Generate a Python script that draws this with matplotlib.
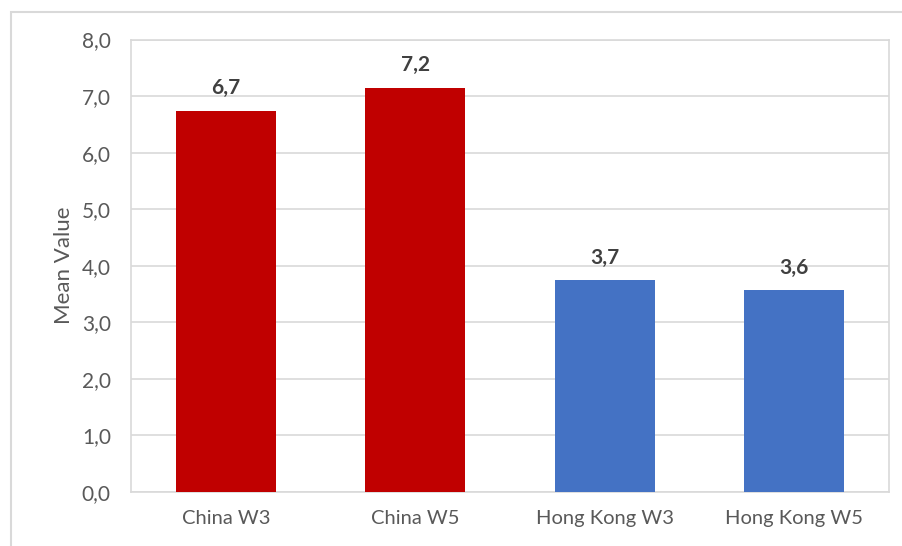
import matplotlib
matplotlib.use("Agg")
import matplotlib.pyplot as plt
from matplotlib.patches import Rectangle

categories = ["China W3", "China W5", "Hong Kong W3", "Hong Kong W5"]
values = [6.74, 7.15, 3.74, 3.57]
labels = ["6,7", "7,2", "3,7", "3,6"]
colors = ["#C00000", "#C00000", "#4472C4", "#4472C4"]
yticks = [0, 1, 2, 3, 4, 5, 6, 7, 8]
ytick_labels = ["0,0", "1,0", "2,0", "3,0", "4,0", "5,0", "6,0", "7,0", "8,0"]

plt.rcParams['font.family'] = ['Lato', 'DejaVu Sans']

W, H = 902, 546
fig = plt.figure(figsize=(W / 100, H / 100), dpi=100)
fig.patches.append(Rectangle((11 / W, -0.1), 1.2, 1 - 12 / H + 0.1,
                             transform=fig.transFigure, fill=False,
                             edgecolor="#d9d9d9", linewidth=1.5))

ax = fig.add_axes([131 / W, 1 - 492 / H, (889 - 131) / W, (492 - 39.5) / H])
x = range(len(categories))
ax.bar(x, values, width=0.528, color=colors, zorder=3)
for xi, v, lab in zip(x, values, labels):
    ax.text(xi, v + 0.22, lab, ha="center", va="bottom", fontsize=15,
            fontweight="bold", color="#404040")

ax.set_ylim(0, 8)
ax.set_xlim(-0.5, 3.5)
ax.set_yticks(yticks)
ax.set_yticklabels(ytick_labels)
ax.set_xticks(list(x))
ax.set_xticklabels(categories)
ax.tick_params(axis="both", length=0, labelsize=15, labelcolor="#595959")
ax.tick_params(axis="x", labelsize=14.5)
ax.tick_params(axis="y", pad=14.5)
ax.tick_params(axis="x", pad=13)
ax.grid(axis="y", color="#d9d9d9", linewidth=1.2, zorder=0)
for s in ax.spines.values():
    s.set_color("#d9d9d9")
    s.set_linewidth(1.2)
ax.set_ylabel("Mean Value", fontsize=16, color="#595959", labelpad=6)

fig.savefig("out.png", dpi=100)
